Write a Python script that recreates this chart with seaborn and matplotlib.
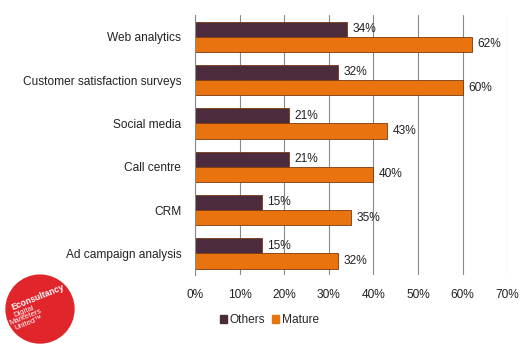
#horizontal grouped bar chart: Others vs Mature per channel
import pandas as pd
import seaborn as sns
from matplotlib import pyplot as plt
from matplotlib.patches import Circle
import matplotlib.ticker as mtick

categories = ['Web analytics', 'Customer satisfaction surveys', 'Social media',
              'Call centre', 'CRM', 'Ad campaign analysis']
others = [34, 32, 21, 21, 15, 15]
mature = [62, 60, 43, 40, 35, 32]
series = ['Others', 'Mature']
x_ticks = [0, 10, 20, 30, 40, 50, 60, 70]

df = pd.DataFrame({
    'answer': categories * 2,
    'percent': others + mature,
    'group': ['Others'] * len(categories) + ['Mature'] * len(categories),
})

sns.set_style('white')
plt.rcParams['font.family'] = ['Liberation Sans', 'DejaVu Sans']
fs = 8.6

fig = plt.figure(figsize=(5.23, 3.49), dpi=100)
ax = fig.add_axes([0.373, 0.212, 0.597, 0.745])

palette = {'Others': '#4b2b3c', 'Mature': '#e8730f'}
sns.barplot(data=df, y='answer', x='percent', hue='group', hue_order=series,
            order=categories, palette=palette, orient='h', width=0.7,
            edgecolor='#7a3a10', linewidth=0.6, saturation=1, ax=ax, legend=False)

for c in ax.containers:
    ax.bar_label(c, labels=[f'{int(v.get_width())}%' for v in c],
                 padding=4, fontsize=fs, color='#222222')

ax.set_xlim(0, 70)
ax.set_xticks(x_ticks)
ax.xaxis.set_major_formatter(mtick.PercentFormatter(decimals=0))
ax.set(xlabel='', ylabel='')
ax.tick_params(axis='both', labelsize=fs, colors='#222222', length=0, pad=10)
ax.grid(axis='x', color='#8a8a8a', linewidth=0.8)
ax.set_axisbelow(True)
for s in ['top', 'right', 'bottom']:
    ax.spines[s].set_visible(False)
ax.spines['left'].set_color('#8a8a8a')

handles = [plt.Rectangle((0, 0), 1, 1, color=palette[s]) for s in series]
fig.legend(handles, series, loc='center', bbox_to_anchor=(0.515, 0.083), ncol=2,
           frameon=False, fontsize=fs, handlelength=0.6, handleheight=0.6,
           handletextpad=0.2, columnspacing=0.6)

# logo in the bottom-left corner (pixel-like units)
lax = fig.add_axes([0.0, 0.0, 0.153, 0.226])
lax.set_xlim(0, 80)
lax.set_ylim(0, 79)
lax.set_aspect('equal')
lax.axis('off')
lax.add_patch(Circle((40, 40), 34, color='#e0252b'))
lax.text(38, 52, 'Econsultancy', color='white', fontsize=6.2, rotation=22,
         ha='center', va='center', fontweight='bold')
lax.text(26, 32, 'Digital\nMarketers\nUnited\u2122', color='white', fontsize=5.5,
         rotation=22, ha='center', va='center', linespacing=0.85)

fig.savefig('out.png', dpi=100)
